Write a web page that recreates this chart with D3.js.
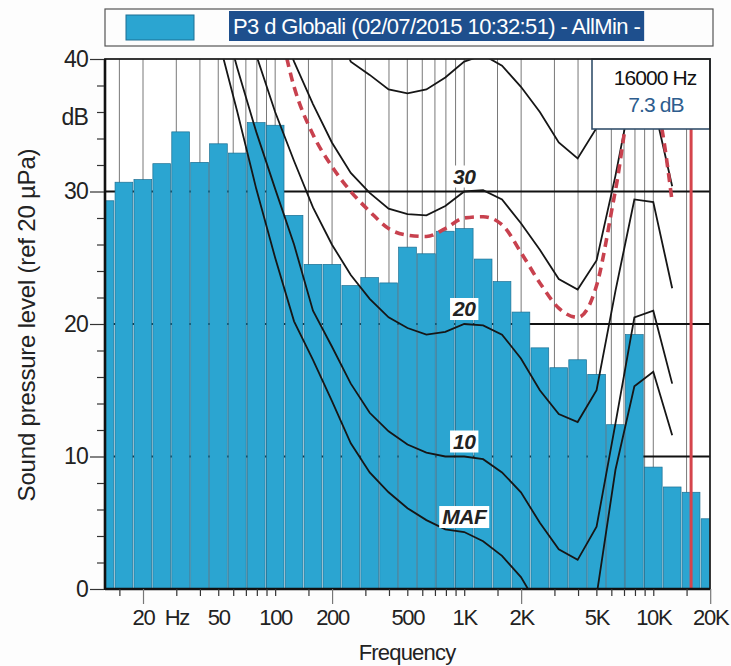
<!DOCTYPE html>
<html lang="en">
<head>
<meta charset="UTF-8">
<title>Sound pressure level</title>
<script src="https://cdn.jsdelivr.net/npm/d3@7"></script>
<style>
  body { margin: 0; background: #fff; }
  text { font-family: "Liberation Sans", Arial, sans-serif; }
</style>
</head>
<body>
<script>
// 1/3 octave bands, 12.5 Hz .. 20 kHz
const bandNames = ["12.5","16","20","25","31.5","40","50","63","80","100","125","160","200","250","315","400","500","630","800","1K","1.25K","1.6K","2K","2.5K","3.15K","4K","5K","6.3K","8K","10K","12.5K","16K","20K"];
const levels = [29.3, 30.7, 30.9, 32.1, 34.5, 32.2, 33.6, 32.9, 35.2, 35.0, 28.2, 24.5, 24.5, 22.9, 23.5, 23.1, 25.8, 25.3, 27.0, 27.2, 24.9, 23.2, 20.9, 18.2, 16.7, 17.3, 16.2, 12.4, 19.2, 9.2, 7.7, 7.3, 5.3];

// contour points, 20 Hz .. 12.5 kHz (band index 2..30)
const curveStart = 2;
const maf   = [70, 61, 54, 47, 41.5, 36, 30.2, 25, 20.2, 17.3, 14.2, 11, 8.8, 7.3, 6.1, 5.2, 4.5, 4.3, 3.6, 2.5, 0.9, -1.5, -3, -3.5, -0.5, 9, 15.3, 16.4, 11.6];
const phon10 = [75, 64, 56, 50, 44.5, 39.3, 34.5, 30.2, 26, 21.0, 18.3, 15.5, 13.3, 11.9, 10.9, 10.3, 10.0, 10.0, 9.8, 8.8, 7.3, 5.0, 3.0, 2.2, 4.7, 12.5, 20.5, 21.0, 15.5];
const phon20 = [77, 69, 62, 56, 50, 45, 40.3, 36, 32.3, 28.8, 26, 23.7, 21.9, 20.5, 19.7, 19.2, 19.4, 20.0, 19.9, 19.2, 17.4, 15.0, 13.2, 12.6, 15.0, 22.5, 29.4, 29.2, 22.7];
const phon30 = [79, 72, 66, 60, 55, 51, 47, 43.5, 39.8, 36.6, 33.7, 31.4, 29.9, 28.7, 28.3, 28.2, 28.9, 30.0, 30.1, 29.4, 27.6, 25.6, 23.4, 22.6, 24.8, 31.2, 38.5, 36.7, 30.4];
const phon40 = [89, 82, 76, 71, 66, 62, 58, 54, 50, 46, 43, 39.8, 38.8, 37.7, 37.4, 37.7, 38.6, 39.8, 40.3, 39.5, 37.9, 36.0, 33.7, 32.5, 34.8, 42, 48, 47, 40];
// red dashed reference, 80 Hz .. 12.5 kHz
const redStart = 8;
const redCurve = [50, 44, 37.9, 34.3, 31.9, 30.0, 28.5, 27.2, 26.7, 26.6, 27.2, 28.0, 28.1, 27.5, 25.4, 23.1, 21.2, 20.5, 22.9, 30.1, 37.5, 37, 29.2];

const curveLabels = [["MAF", maf], ["10", phon10], ["20", phon20], ["30", phon30]];

const xTicks = [15,20,30,40,50,60,70,80,90,100,150,200,300,400,500,600,700,800,900,1000,1500,2000,3000,4000,5000,6000,7000,8000,9000,10000,15000,20000];
const xMajor = [20, 200, 2000, 20000];
const xTickText = {20:"20", 30:"Hz", 50:"50", 100:"100", 200:"200", 500:"500", 1000:"1K", 2000:"2K", 5000:"5K", 10000:"10K", 20000:"20K"};
const yTickText = {0:"0", 10:"10", 20:"20", 30:"30", 40:"40"};
const cursorBand = 31;
const cursorHz = 16000;

const barColor = "#2ba5d1";
const W = 731, H = 666;
const L = 105, R = 710, T = 59, B = 589;

// nominal base-10 band centre
const fc = i => 1000 * Math.pow(10, (i - 19) / 10);

const x = d3.scaleLog().domain([fc(0), fc(32)]).range([L, R]);
const y = d3.scaleLinear().domain([0, 40]).range([B, T]);

const svg = d3.select("body").append("svg").attr("width", W).attr("height", H);
svg.append("rect").attr("width", W).attr("height", H).attr("fill", "#fdfdfd");

svg.append("clipPath").attr("id", "plot")
  .append("rect").attr("x", L).attr("y", T).attr("width", R - L).attr("height", B - T);

const plot = svg.append("g").attr("clip-path", "url(#plot)");
plot.append("rect").attr("x", L).attr("y", T).attr("width", R - L).attr("height", B - T).attr("fill", "#fff");

// grid
plot.selectAll(".vg").data(xTicks.filter(d => d < 20000)).join("line")
  .attr("x1", d => x(d)).attr("x2", d => x(d)).attr("y1", T).attr("y2", B)
  .attr("stroke", "#6a6a6a").attr("stroke-width", 0.9);
plot.selectAll(".hg").data([10, 20, 30]).join("line")
  .attr("x1", L).attr("x2", R).attr("y1", d => y(d)).attr("y2", d => y(d))
  .attr("stroke", "#111").attr("stroke-width", 2);

// bars
plot.selectAll(".bar").data(levels).join("rect")
  .attr("x", (d, i) => x(fc(i - 0.5)) + 0.6)
  .attr("width", (d, i) => x(fc(i + 0.5)) - x(fc(i - 0.5)) - 1.2)
  .attr("y", d => y(d))
  .attr("height", d => B - y(d))
  .attr("fill", barColor)
  .attr("stroke", "#1c6f93").attr("stroke-width", 0.7);

// contours
const line = d3.line().x(d => x(d[0])).y(d => y(d[1]));
const pts = (arr, start) => arr.map((v, k) => [fc(start + k), v]);
[maf, phon10, phon20, phon30, phon40].forEach(c => {
  plot.append("path").attr("d", line(pts(c, curveStart)))
    .attr("fill", "none").attr("stroke", "#161616").attr("stroke-width", 1.8);
});
plot.append("path")
  .attr("d", line.curve(d3.curveMonotoneX)(pts(redCurve, redStart)))
  .attr("fill", "none").attr("stroke", "#c8414e").attr("stroke-width", 3.6)
  .attr("stroke-dasharray", "9,6");

// contour labels at 1 kHz
const lab = svg.append("g");
curveLabels.forEach(([name, c]) => {
  const v = c[19 - curveStart];
  const g = lab.append("g").attr("transform", `translate(${x(1000)},${y(v) - 15})`);
  const t = g.append("text").attr("text-anchor", "middle").attr("dy", "0.35em")
    .attr("font-size", 21).attr("font-weight", "bold").attr("font-style", "italic")
    .attr("letter-spacing", -0.5).attr("fill", "#222").text(name);
  const w = t.node().getComputedTextLength();
  g.insert("rect", "text").attr("x", -w / 2 - 3).attr("y", -11).attr("width", w + 6).attr("height", 22)
    .attr("fill", "#fff");
});

// cursor
svg.append("line").attr("x1", x(fc(cursorBand))).attr("x2", x(fc(cursorBand)))
  .attr("y1", T).attr("y2", B).attr("stroke", "#d5444c").attr("stroke-width", 3);

const info = svg.append("g");
info.append("rect").attr("x", 592).attr("y", T).attr("width", R - 592).attr("height", 70)
  .attr("fill", "#fff").attr("stroke", "#34506c").attr("stroke-width", 1.6);
info.append("text").attr("x", 655).attr("y", 85).attr("text-anchor", "middle")
  .attr("font-size", 21).attr("fill", "#111").attr("letter-spacing", -0.9)
  .text(cursorHz + " Hz");
info.append("text").attr("x", 656).attr("y", 112).attr("text-anchor", "middle")
  .attr("font-size", 21).attr("fill", "#2d5d8e").attr("letter-spacing", -0.9)
  .text(levels[cursorBand].toFixed(1) + " dB");

// frame
svg.append("rect").attr("x", L).attr("y", T).attr("width", R - L).attr("height", B - T)
  .attr("fill", "none").attr("stroke", "#222").attr("stroke-width", 1.8);
svg.append("line").attr("x1", L).attr("x2", L).attr("y1", T).attr("y2", B + 1).attr("stroke", "#111").attr("stroke-width", 2.6);
svg.append("line").attr("x1", L).attr("x2", R).attr("y1", B).attr("y2", B).attr("stroke", "#111").attr("stroke-width", 2.6);

// x axis
const xa = svg.append("g").attr("transform", `translate(0,${B})`)
  .call(d3.axisBottom(x).tickValues(xTicks).tickSize(7).tickFormat(d => xTickText[d] || ""));
xa.select(".domain").remove();
xa.selectAll(".tick line").attr("stroke", "#333").attr("stroke-width", 1.2)
  .filter(d => xMajor.includes(d)).attr("y2", 15).attr("stroke", "#777");
xa.selectAll(".tick text").attr("y", 20).attr("dy", "0.71em")
  .attr("font-size", 22).attr("fill", "#222").attr("letter-spacing", -1.3)
  .attr("font-family", "'Liberation Sans', Arial, sans-serif");

// y axis
const ya = svg.append("g").attr("transform", `translate(${L - 1},0)`)
  .call(d3.axisLeft(y).tickValues(d3.range(0, 41, 2)).tickSize(7).tickPadding(3)
    .tickFormat(d => yTickText[d] || ""));
ya.select(".domain").remove();
ya.selectAll(".tick line").attr("stroke", "#333").attr("stroke-width", 1.2)
  .filter(d => d % 10 === 0).attr("x2", -14);
ya.selectAll(".tick text").attr("x", -16).attr("font-size", 23).attr("fill", "#222")
  .attr("letter-spacing", -0.8).attr("font-family", "'Liberation Sans', Arial, sans-serif");
svg.append("text").attr("x", L - 17).attr("y", y(35.6)).attr("dy", "0.32em").attr("text-anchor", "end")
  .attr("font-size", 23).attr("fill", "#222").attr("letter-spacing", -0.8).text("dB");

svg.append("text").attr("transform", "translate(35,325) rotate(-90)").attr("text-anchor", "middle")
  .attr("font-size", 24).attr("fill", "#222").attr("letter-spacing", -0.2)
  .text("Sound pressure level (ref 20 \u00b5Pa)");
svg.append("text").attr("x", 407).attr("y", 660).attr("text-anchor", "middle")
  .attr("font-size", 22).attr("fill", "#222").attr("letter-spacing", -0.8).text("Frequency");

// legend
const lg = svg.append("g");
lg.append("rect").attr("x", 105).attr("y", 9).attr("width", 608).attr("height", 37)
  .attr("fill", "#fdfdfd").attr("stroke", "#555").attr("stroke-width", 1.2);
lg.append("rect").attr("x", 126).attr("y", 15).attr("width", 68).attr("height", 25)
  .attr("fill", barColor).attr("stroke", "#1c6f93").attr("stroke-width", 1);
const lt = lg.append("text").attr("x", 233).attr("y", 34)
  .attr("font-size", 22).attr("fill", "#fff").attr("letter-spacing", -0.6)
  .text("P3 d Globali (02/07/2015 10:32:51) - AllMin -");
const ltw = lt.node().getComputedTextLength();
lg.insert("rect", "text").attr("x", 229).attr("y", 11).attr("width", ltw + 8).attr("height", 30)
  .attr("fill", "#1e4f8d");
</script>
</body>
</html>
